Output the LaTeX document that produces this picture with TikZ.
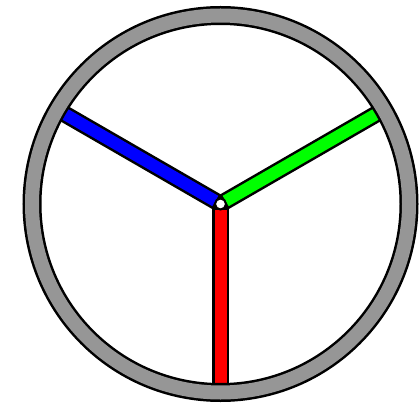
\documentclass[tikz,border=0pt]{standalone}
\definecolor{ringgray}{RGB}{150,150,150}
\definecolor{pureGreen}{RGB}{0,255,0}
\definecolor{pureBlue}{RGB}{0,0,255}
\definecolor{pureRed}{RGB}{255,0,0}
\tikzset{
  spokeout/.style={draw=black,line width=17pt,line cap=butt},
  spokein/.style={line width=12pt,line cap=butt},
}
\begin{document}
\begin{tikzpicture}[x=1pt,y=-1pt]
\useasboundingbox (0,0) rectangle (420,406);
\coordinate (c) at (220.5,204);
\path (c) ++(210:185) coordinate (pb);
\path (c) ++(330:185) coordinate (pg);
\path (c) ++(0,185) coordinate (pr);
\path (c) ++(210:6) coordinate (cb);
\path (c) ++(330:6) coordinate (cg);
\path (c) ++(0,6) coordinate (cr);
% spokes
\draw[spokeout] (c) -- (pb);
\draw[spokeout] (c) -- (pg);
\draw[spokeout] (c) -- (pr);
\draw[spokein,draw=pureBlue] (cb) -- (pb);
\draw[spokein,draw=pureGreen] (cg) -- (pg);
\draw[spokein,draw=pureRed] (cr) -- (pr);
% ring
\draw[black,line width=19pt] (c) circle[radius=188.5];
\draw[ringgray,line width=14pt] (c) circle[radius=188.5];
% hub
\node[circle,draw=black,fill=white,line width=2pt,minimum size=11pt,inner sep=0pt] (hub) at (c) {};
\end{tikzpicture}
\end{document}
